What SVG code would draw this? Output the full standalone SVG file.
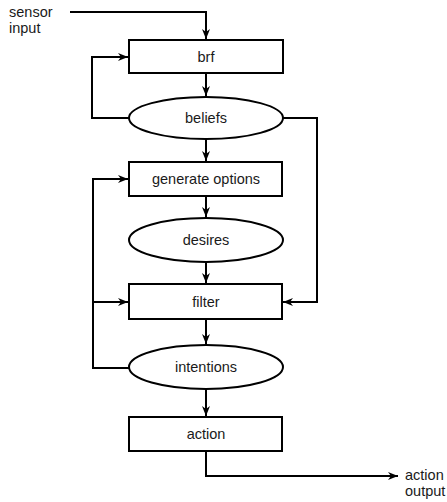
<svg xmlns="http://www.w3.org/2000/svg" width="447" height="502" viewBox="0 0 447 502">
  <defs>
    <marker id="arrow" viewBox="0 0 10 8" refX="10" refY="4" markerWidth="10" markerHeight="8" markerUnits="userSpaceOnUse" orient="auto">
      <path d="M0,0 L10,4 L0,8 L3,4 z" fill="#000"/>
    </marker>
  </defs>
  <style>
    .box { fill: #fff; stroke: #000; stroke-width: 2; }
    .lbl { font-family: "Liberation Sans", Arial, sans-serif; font-size: 14.5px; fill: #1a1a1a; text-anchor: middle; }
    .ext { font-family: "Liberation Sans", Arial, sans-serif; font-size: 14.5px; fill: #1a1a1a; }
    .wire { fill: none; stroke: #000; stroke-width: 2; marker-end: url(#arrow); }
  </style>
  <rect width="447" height="502" fill="#fff"/>

  <g id="connectors">
    <path class="wire" d="M70,12 H206 V39"/>
    <path class="wire" d="M206,73 V96"/>
    <path class="wire" d="M129,118 H92 V57 H128"/>
    <path class="wire" d="M206,139 V161"/>
    <path class="wire" d="M283,118 H317 V302 H283"/>
    <path class="wire" d="M206,196 V217"/>
    <path class="wire" d="M206,262 V283"/>
    <path class="wire" d="M129,368 H93 V179 H128"/>
    <path class="wire" d="M93,302 H128"/>
    <path class="wire" d="M206,319 V344"/>
    <path class="wire" d="M206,390 V416"/>
    <path class="wire" d="M206,451 V476 H398"/>
  </g>

  <g id="sensor-input">
    <text class="ext" x="9" y="17">sensor</text>
    <text class="ext" x="9" y="33">input</text>
  </g>
  <g id="brf">
    <rect class="box" x="129" y="40" width="154" height="33"/>
    <text class="lbl" x="206" y="62">brf</text>
  </g>
  <g id="beliefs">
    <ellipse class="box" cx="206" cy="118" rx="77" ry="21"/>
    <text class="lbl" x="206" y="123">beliefs</text>
  </g>
  <g id="generate-options">
    <rect class="box" x="129" y="162" width="153" height="34"/>
    <text class="lbl" x="206" y="184">generate options</text>
  </g>
  <g id="desires">
    <ellipse class="box" cx="206" cy="240" rx="77" ry="22"/>
    <text class="lbl" x="206" y="245">desires</text>
  </g>
  <g id="filter">
    <rect class="box" x="129" y="284" width="153" height="35"/>
    <text class="lbl" x="206" y="307">filter</text>
  </g>
  <g id="intentions">
    <ellipse class="box" cx="206" cy="367" rx="77" ry="22"/>
    <text class="lbl" x="206" y="372">intentions</text>
  </g>
  <g id="action">
    <rect class="box" x="129" y="417" width="153" height="34"/>
    <text class="lbl" x="206" y="439">action</text>
  </g>
  <g id="action-output">
    <text class="ext" x="405" y="480">action</text>
    <text class="ext" x="405" y="496">output</text>
  </g>
</svg>
